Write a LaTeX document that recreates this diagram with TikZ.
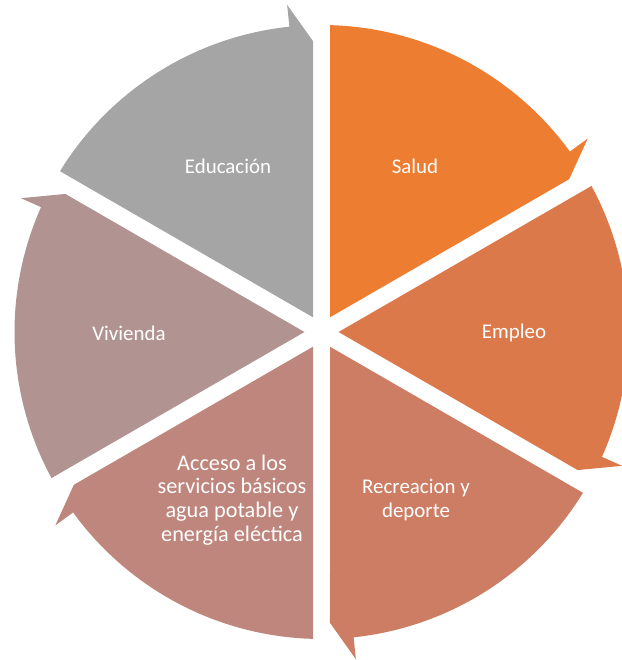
\documentclass[tikz,border=0pt]{standalone}
\usepackage{fontspec}
\setmainfont{Carlito}
\usepackage{xcolor}
\usepackage{tikz}

\definecolor{cSalud}{RGB}{237,125,49}
\definecolor{cEmpleo}{RGB}{220,121,75}
\definecolor{cRecreacion}{RGB}{204,125,100}
\definecolor{cAcceso}{RGB}{190,134,124}
\definecolor{cVivienda}{RGB}{177,148,145}
\definecolor{cEducacion}{RGB}{165,165,165}

\tikzset{
  segment/.style={draw=none},
  segtext/.style={text=white, align=center, inner sep=0.75pt, font=\fontsize{15.7}{17.8}\selectfont}
}

\begin{document}
\begin{tikzpicture}[x=0.75pt,y=0.75pt,yscale=-1,xscale=1]
\useasboundingbox (0,0) rectangle (621,660);

\begin{scope}[shift={(321.5,332)},yscale=-1]
%Shape: Salud
\fill [segment, cSalud] (60:17) -- (88.413:307) arc [start angle=88.413, end angle=36, radius=307] -- (36:329) -- (31.674:291) -- cycle ;
%Shape: Empleo
\fill [segment, cEmpleo] (0:17) -- (28.413:307) arc [start angle=28.413, end angle=-24, radius=307] -- (-24:329) -- (-28.326:291) -- cycle ;
%Shape: Recreacion
\fill [segment, cRecreacion] (-60:17) -- (-31.587:307) arc [start angle=-31.587, end angle=-84, radius=307] -- (-84:329) -- (-88.326:291) -- cycle ;
%Shape: Acceso
\fill [segment, cAcceso] (-120:17) -- (-91.587:307) arc [start angle=-91.587, end angle=-144, radius=307] -- (-144:329) -- (-148.326:291) -- cycle ;
%Shape: Vivienda
\fill [segment, cVivienda] (180:17) -- (208.413:307) arc [start angle=208.413, end angle=156, radius=307] -- (156:329) -- (151.674:291) -- cycle ;
%Shape: Educacion
\fill [segment, cEducacion] (120:17) -- (148.413:307) arc [start angle=148.413, end angle=96, radius=307] -- (96:329) -- (91.674:291) -- cycle ;
\end{scope}

% Text Node
\node [segtext] (educacion) at (228,166) {Educación};
% Text Node
\node [segtext] (salud) at (415,166) {Salud};
% Text Node
\node [segtext] (empleo) at (514,333) {Empleo};
% Text Node
\node [segtext] (recreacion) at (416,500) {Recreacion y\\deporte};
% Text Node
\node [segtext, font=\fontsize{16.7}{17.8}\selectfont] (acceso) at (232,500) {Acceso a los\\servicios básicos\\agua potable y\\energía eléctica};
% Text Node
\node [segtext] (vivienda) at (129,333) {Vivienda};

\end{tikzpicture}
\end{document}
